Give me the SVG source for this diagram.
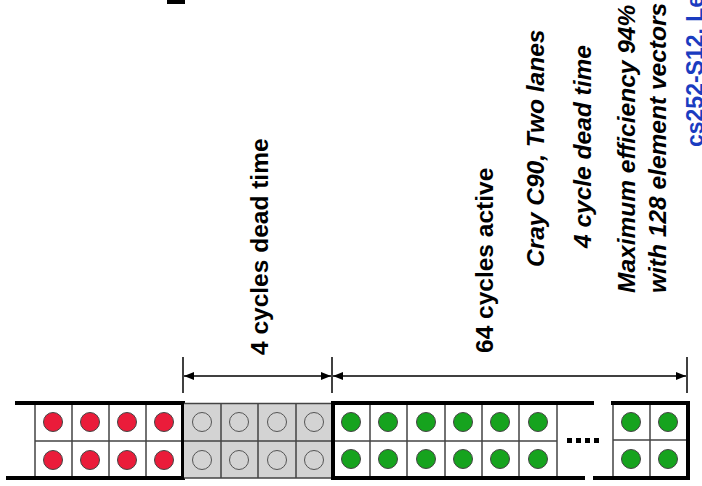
<svg xmlns="http://www.w3.org/2000/svg" width="702" height="486" viewBox="0 0 702 486">
<style>
.t{font-family:"Liberation Sans",Arial,sans-serif;font-weight:bold;font-size:24.5px;fill:#000}
.i{font-style:italic}
.thin{stroke:#444;stroke-width:1.5;fill:none}
.thick{stroke:#000;stroke-width:4;fill:none;stroke-linecap:square}
.red{fill:#ea1c3a;stroke:#444;stroke-width:1}
.grn{fill:#16a31e;stroke:#444;stroke-width:1}
.gry{fill:none;stroke:#555;stroke-width:1}
.tick{stroke:#000;stroke-width:1.5}
.arr{stroke:#000;stroke-width:1.5;marker-start:url(#ah);marker-end:url(#ah)}
</style>
<defs>
<marker id="ah" viewBox="0 0 10 8" refX="10" refY="4" markerWidth="10" markerHeight="8" markerUnits="userSpaceOnUse" orient="auto-start-reverse">
<path d="M0,0 L10,4 L0,8 z" fill="#000"/>
</marker>
</defs>
<rect width="702" height="486" fill="#fff"/>
<rect x="167" y="0" width="18" height="4" fill="#000"/>

<g id="labels">
<text class="t" transform="translate(268,355) rotate(-90)">4 cycles dead time</text>
<text class="t" transform="translate(493,353) rotate(-90)">64 cycles active</text>
<text class="t i" transform="translate(544,267) rotate(-90)">Cray C90, Two lanes</text>
<text class="t i" transform="translate(591,248) rotate(-90)">4 cycle dead time</text>
<text class="t i" transform="translate(635,293) rotate(-90)">Maximum efficiency 94%</text>
<text class="t i" transform="translate(666,293) rotate(-90)">with 128 element vectors</text>
<text class="t" style="fill:#1a3cc0;font-size:23px" transform="translate(703,147) rotate(-90)">cs252-S12, Lec</text>
</g>

<g id="connectors">
<line class="tick" x1="183" y1="357" x2="183" y2="393"/>
<line class="tick" x1="332" y1="357" x2="332" y2="393"/>
<line class="tick" x1="687" y1="357" x2="687" y2="393"/>
<line class="arr" x1="184" y1="376" x2="331" y2="376"/>
<line class="arr" x1="333" y1="376" x2="686" y2="376"/>
</g>

<g id="dead-left">
<rect x="35" y="403" width="148" height="75" fill="#fff"/>
<path class="thin" d="M35,403V478M72,403V478M109,403V478M146,403V478M35,441H183"/>
<circle class="red" cx="53" cy="422" r="9.5"/><circle class="red" cx="90" cy="422" r="9.5"/>
<circle class="red" cx="127" cy="422" r="9.5"/><circle class="red" cx="164" cy="422" r="9.5"/>
<circle class="red" cx="53" cy="460" r="9.5"/><circle class="red" cx="90" cy="460" r="9.5"/>
<circle class="red" cx="127" cy="460" r="9.5"/><circle class="red" cx="164" cy="460" r="9.5"/>
<path class="thick" d="M17,403H183V478H8"/>
</g>

<g id="dead-gray">
<rect x="184" y="403" width="148" height="75" fill="#d3d3d3"/>
<path class="thin" d="M184,403.5H332M184,478H332M221,403V478M258,403V478M296,403V478M184,441H332"/>
<circle class="gry" cx="202" cy="422" r="9.5"/><circle class="gry" cx="239" cy="422" r="9.5"/>
<circle class="gry" cx="277" cy="422" r="9.5"/><circle class="gry" cx="314" cy="422" r="9.5"/>
<circle class="gry" cx="202" cy="460" r="9.5"/><circle class="gry" cx="239" cy="460" r="9.5"/>
<circle class="gry" cx="277" cy="460" r="9.5"/><circle class="gry" cx="314" cy="460" r="9.5"/>
</g>

<g id="active">
<rect x="333" y="403" width="224" height="75" fill="#fff"/>
<path class="thin" d="M370,403V478M407,403V478M445,403V478M482,403V478M519,403V478M557,403V478M333,441H557"/>
<circle class="grn" cx="351" cy="422" r="9.5"/><circle class="grn" cx="388" cy="422" r="9.5"/>
<circle class="grn" cx="426" cy="422" r="9.5"/><circle class="grn" cx="463" cy="422" r="9.5"/>
<circle class="grn" cx="500" cy="422" r="9.5"/><circle class="grn" cx="538" cy="422" r="9.5"/>
<circle class="grn" cx="351" cy="459" r="9.5"/><circle class="grn" cx="388" cy="459" r="9.5"/>
<circle class="grn" cx="426" cy="459" r="9.5"/><circle class="grn" cx="463" cy="459" r="9.5"/>
<circle class="grn" cx="500" cy="459" r="9.5"/><circle class="grn" cx="538" cy="459" r="9.5"/>
<path class="thick" d="M592,403H333V478H583"/>
<g fill="#000">
<rect x="567" y="438" width="5" height="5"/><rect x="576" y="438" width="5" height="5"/>
<rect x="585" y="438" width="5" height="5"/><rect x="594" y="438" width="5" height="5"/>
</g>
</g>

<g id="active-end">
<rect x="613" y="403" width="75" height="75" fill="#fff"/>
<path class="thin" d="M613,403V478M650,403V478M613,440H688"/>
<circle class="grn" cx="631" cy="422" r="9.5"/><circle class="grn" cx="668" cy="422" r="9.5"/>
<circle class="grn" cx="631" cy="459" r="9.5"/><circle class="grn" cx="668" cy="459" r="9.5"/>
<path class="thick" d="M613,403H688V478H595"/>
</g>
</svg>
